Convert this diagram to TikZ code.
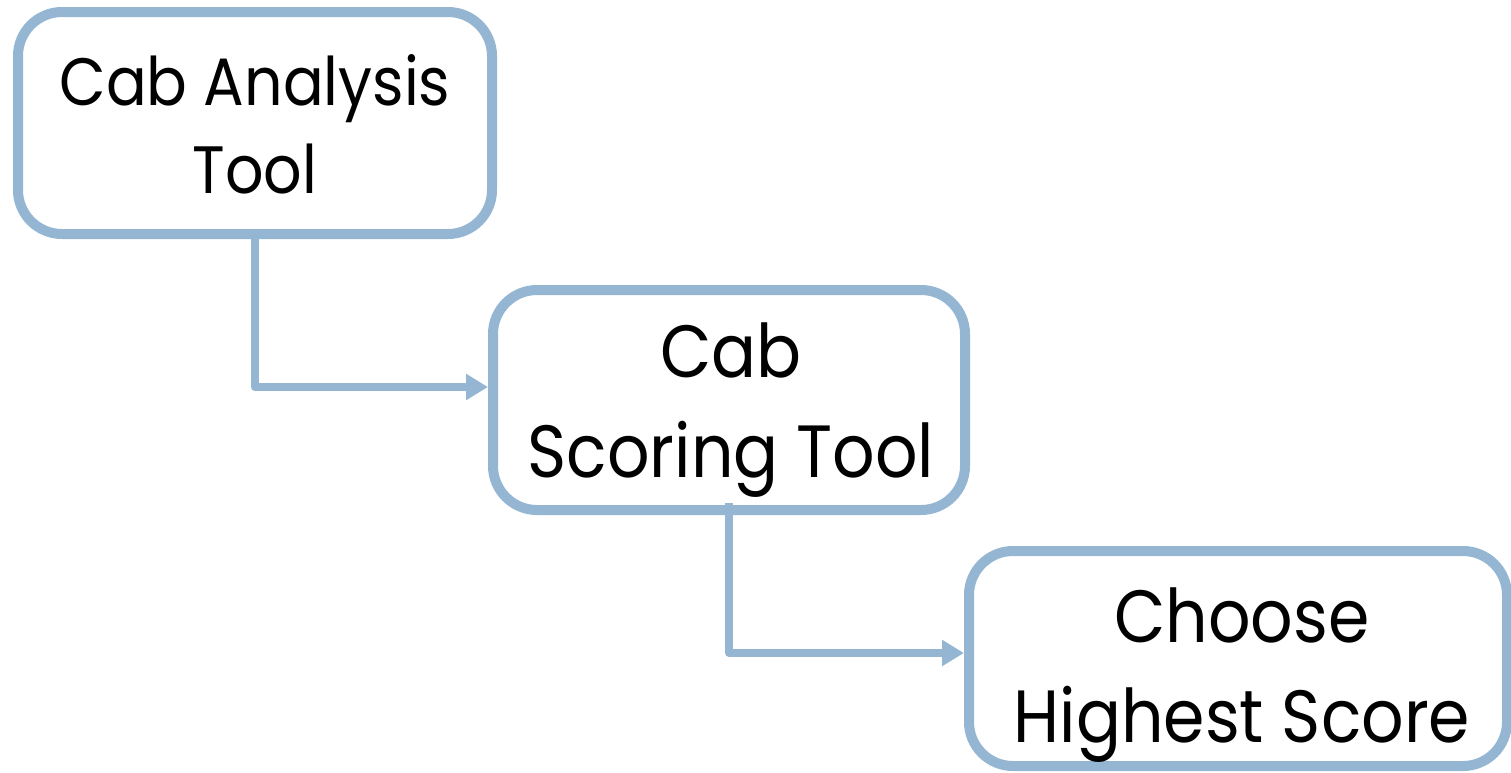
\documentclass[tikz,border=0pt]{standalone}
\usepackage{fontspec}
\setmainfont[FakeStretch=0.9]{Poppins}
\usetikzlibrary{arrows.meta}
\definecolor{boxblue}{HTML}{94B6D3}
\tikzset{
  flowbox/.style={draw=boxblue, line width=5pt, rounded corners=22pt, inner sep=0pt},
  boxtext/.style={align=center, inner sep=0pt, text=black},
  conn/.style={draw=boxblue, line width=4pt, line join=round,
    -{Triangle[length=11pt,width=12.5pt]}},
}
\begin{document}
\begin{tikzpicture}[x=0.5pt,y=-0.5pt]
\useasboundingbox (0,0) rectangle (1511,772);
\node[flowbox, minimum width=237pt, minimum height=111pt] (b1) at (255,123) {};
\node[flowbox, minimum width=236pt, minimum height=110pt] (b2) at (729,400) {};
\node[flowbox, minimum width=269pt, minimum height=107.5pt] (b3) at (1238,658.5) {};
\node[boxtext, font=\fontsize{33.5}{44}\selectfont] (t1) at (255,124) {Cab Analysis\\Tool};
\node[boxtext, font=\fontsize{37}{50}\selectfont] (t2) at (731,410) {Cab\\Scoring Tool};
\node[boxtext, font=\fontsize{37}{50}\selectfont] (t3) at (1242,675) {Choose\\Highest Score};
\draw[conn] ([yshift=1pt]b1.south) |- ([yshift=6.5pt]b2.west);
\draw[conn] ([yshift=6pt]b2.south) |- ([yshift=2.75pt]b3.west);
\end{tikzpicture}
\end{document}
